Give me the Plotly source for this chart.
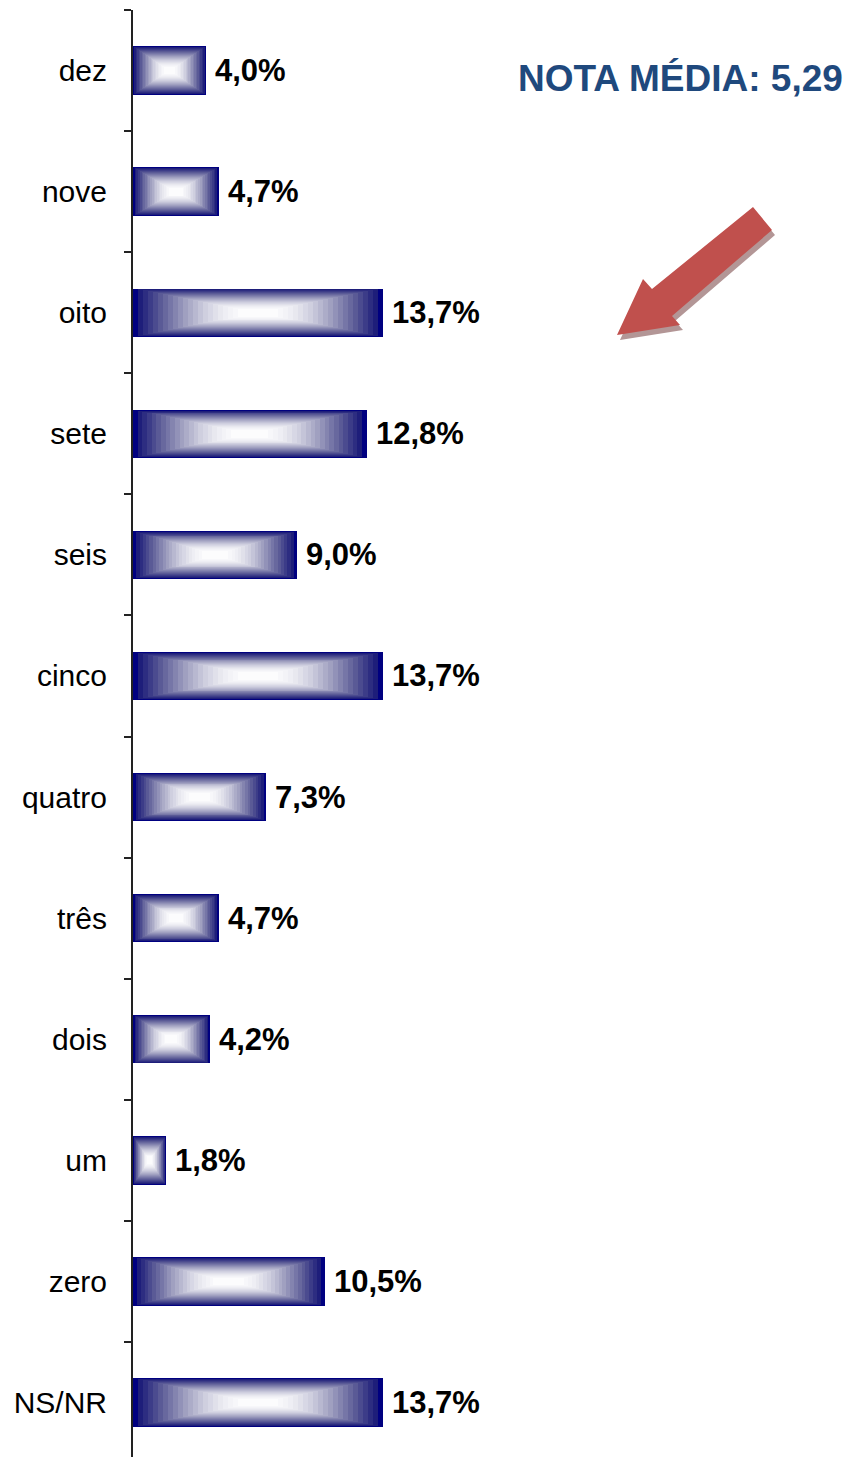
import plotly.graph_objects as go

# ---------------- data ----------------
categories = ["dez", "nove", "oito", "sete", "seis", "cinco", "quatro",
              "três", "dois", "um", "zero", "NS/NR"]
values = [4.0, 4.7, 13.7, 12.8, 9.0, 13.7, 7.3, 4.7, 4.2, 1.8, 10.5, 13.7]
value_labels = [f"{v:.1f}%".replace(".", ",") for v in values]
title_text = "NOTA MÉDIA: 5,29"

# ---------------- layout constants ----------------
OFF = 8                      # page body margin
W, H = 852 - OFF, 1457 - OFF
ML, MR, MT, MB = 133 - OFF, 0, 10 - OFF, 0
PW, PH = W - ML - MR, H - MT - MB
PX_PER_UNIT = 18.25
FONT = "Liberation Sans, Arial, sans-serif"


def px(xp):  # window pixel -> paper
    return (xp - OFF - ML) / PW


def py(yp):
    return (H - MB - (yp - OFF)) / PH


fig = go.Figure()

# rectangular "from center" gradient made of nested bars
bar_w = 0.4
stops = [(0.0, (0, 0, 128)), (0.04, (30, 30, 122)), (0.2, (90, 90, 150)),
         (0.4, (160, 160, 192)), (0.55, (205, 205, 222)),
         (0.7, (236, 236, 242)), (0.84, (252, 252, 253))]
steps = [i * 0.04 for i in range(22)]


def colour(t):
    for (t0, c0), (t1, c1) in zip(stops[:-1], stops[1:]):
        if t <= t1:
            g = (t - t0) / (t1 - t0)
            c = [c0[i] + (c1[i] - c0[i]) * g for i in range(3)]
            return "rgb(%d,%d,%d)" % tuple(int(round(x)) for x in c)
    return "rgb(%d,%d,%d)" % stops[-1][1]


for k, t in enumerate(steps):
    fig.add_trace(go.Bar(
        y=categories,
        x=[v * (1 - t) for v in values],
        base=[v * t / 2 for v in values],
        width=bar_w * (1 - t),
        orientation="h",
        marker=dict(color=colour(t), line=dict(width=0)),
        hoverinfo="skip",
        showlegend=False,
    ))

# value labels
for c, v, lab in zip(categories, values, value_labels):
    fig.add_annotation(x=v, y=c, xref="x", yref="y", text=f"<b>{lab}</b>",
                       showarrow=False, xanchor="left", yanchor="middle",
                       xshift=7, font=dict(family=FONT, size=31, color="black"))

# title
fig.add_annotation(x=px(516), y=py(78), xref="paper", yref="paper",
                   text=f"<b>{title_text}</b>", showarrow=False,
                   xanchor="left", yanchor="middle",
                   font=dict(family=FONT, size=37, color="#1F497D"))

# arrow (decorative shape)
arrow_pts = [(753, 207), (772, 230), (672, 316), (680, 325), (617, 335),
             (643, 279), (652, 289)]


def path(pts, dx=0, dy=0):
    s = "M " + " L ".join(f"{px(x + dx):.5f},{py(y + dy):.5f}" for x, y in pts)
    return s + " Z"


fig.add_shape(type="path", xref="paper", yref="paper",
              path=path(arrow_pts, 3, 5), fillcolor="#B39696",
              line=dict(width=0), layer="above")
fig.add_shape(type="path", xref="paper", yref="paper",
              path=path(arrow_pts), fillcolor="#C0504D",
              line=dict(width=0), layer="above")

fig.update_layout(
    width=W, height=H,
    margin=dict(l=ML, r=MR, t=MT, b=MB),
    paper_bgcolor="white", plot_bgcolor="white",
    barmode="overlay", bargap=0,
    showlegend=False,
    font=dict(family=FONT, size=30, color="black"),
)
fig.update_xaxes(visible=False, range=[0, PW / PX_PER_UNIT], fixedrange=True)
fig.update_yaxes(
    type="category", categoryorder="array", categoryarray=categories,
    range=[11.45, -0.5],
    showline=True, linecolor="#222222", linewidth=2,
    showgrid=False, zeroline=False,
    ticks="outside", tickson="boundaries", ticklen=7, tickwidth=1.5,
    tickcolor="#222222",
    tickfont=dict(family=FONT, size=30, color="black"),
    ticklabelstandoff=18,
    fixedrange=True,
)

fig.write_html("out.html")
